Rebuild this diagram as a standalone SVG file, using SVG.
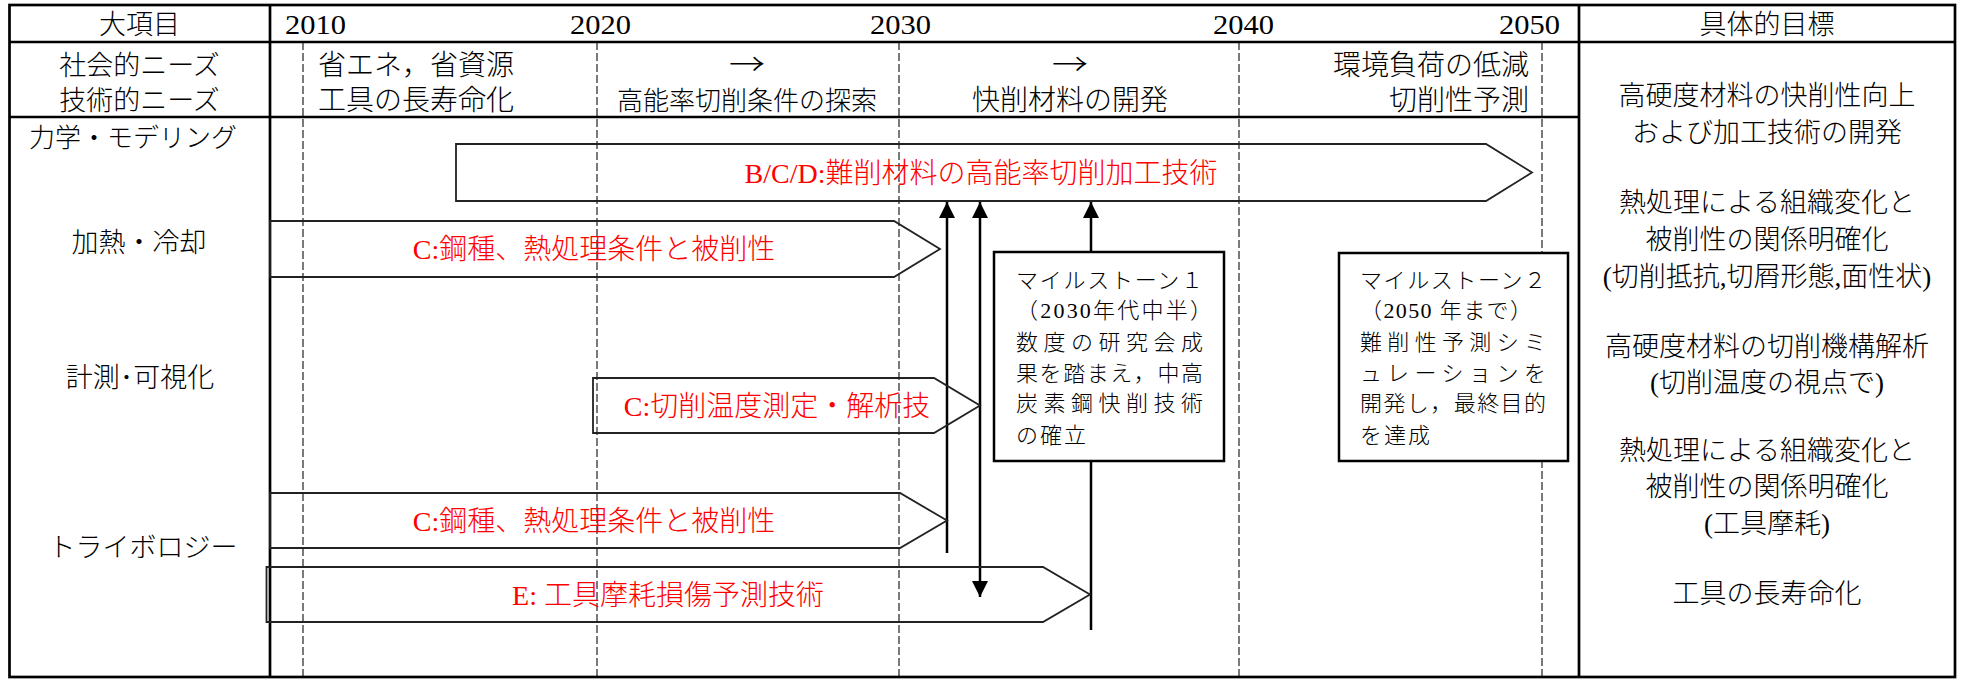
<svg xmlns="http://www.w3.org/2000/svg" width="1962" height="679" viewBox="0 0 1962 679">
<style>
.tbl{stroke:#000;stroke-width:2.7;fill:none}
.dash{stroke:#333;stroke-width:1.3;stroke-dasharray:8 3;fill:none}
.t{font-family:"Liberation Serif","Noto Sans CJK JP",serif;font-size:27px;font-weight:300;fill:#000}
.arr{font-family:"Noto Sans CJK JP",sans-serif;font-size:30px;font-weight:300}
.c{text-anchor:middle}
.e{text-anchor:end}
.red{fill:#f00;font-size:28px}
.bar{fill:none;stroke:#222;stroke-width:1.8}
.ms{fill:#fff;stroke:#000;stroke-width:2.5}
.mt{font-size:22px}
.conn{stroke:#000;stroke-width:2.5;fill:none}
.yr{font-size:28px}
</style>
<defs>
<marker id="ah" markerUnits="userSpaceOnUse" markerWidth="16" markerHeight="16" viewBox="0 0 16 16" refX="16" refY="8" orient="auto-start-reverse">
<path d="M0,0 L16,8 L0,16 z" fill="#000"/>
</marker>
</defs>
<rect width="1962" height="679" fill="#fff"/>
<g id="grid">
<line class="dash" x1="303" y1="42" x2="303" y2="677"/>
<line class="dash" x1="597" y1="42" x2="597" y2="677"/>
<line class="dash" x1="899" y1="42" x2="899" y2="677"/>
<line class="dash" x1="1239" y1="42" x2="1239" y2="677"/>
<line class="dash" x1="1542" y1="42" x2="1542" y2="677"/>
<rect class="tbl" x="9.5" y="5" width="1945.5" height="672"/>
<line class="tbl" x1="9.5" y1="42" x2="1955" y2="42"/>
<line class="tbl" x1="9.5" y1="117" x2="1579" y2="117"/>
<line class="tbl" x1="270" y1="5" x2="270" y2="677"/>
<line class="tbl" x1="1579" y1="5" x2="1579" y2="677"/>
</g>
<g id="header">
<text class="t c" x="139.5" y="34">大項目</text>
<text class="t yr" x="285" y="34" textLength="61" lengthAdjust="spacingAndGlyphs">2010</text>
<text class="t yr" x="570" y="34" textLength="61" lengthAdjust="spacingAndGlyphs">2020</text>
<text class="t yr" x="870" y="34" textLength="61" lengthAdjust="spacingAndGlyphs">2030</text>
<text class="t yr" x="1213" y="34" textLength="61" lengthAdjust="spacingAndGlyphs">2040</text>
<text class="t yr" x="1499" y="34" textLength="61" lengthAdjust="spacingAndGlyphs">2050</text>
<text class="t c" x="1767" y="34">具体的目標</text>
</g>
<g id="needs">
<text class="t c" x="139.5" y="75">社会的ニーズ</text>
<text class="t c" x="139.5" y="110">技術的ニーズ</text>
<text class="t" x="318" y="75" style="font-size:28px">省エネ，省資源</text>
<text class="t" x="318" y="110" style="font-size:28px">工具の長寿命化</text>
<text class="arr c" transform="translate(747,75) scale(1.2,1)">→</text>
<text class="t c" x="747" y="110" style="font-size:26px">高能率切削条件の探索</text>
<text class="arr c" transform="translate(1070,75) scale(1.2,1)">→</text>
<text class="t c" x="1070" y="110" style="font-size:28px">快削材料の開発</text>
<text class="t e" x="1529" y="75" style="font-size:28px">環境負荷の低減</text>
<text class="t e" x="1529" y="110" style="font-size:28px">切削性予測</text>
</g>
<g id="categories">
<text class="t c" x="133" y="147" style="font-size:26px">力学・モデリング</text>
<text class="t c" x="139" y="252">加熱・冷却</text>
<text class="t c" x="140" y="387">計測･可視化</text>
<text class="t c" x="143" y="557">トライボロジー</text>
</g>
<g id="goals">
<text class="t c" x="1767" y="105">高硬度材料の快削性向上</text>
<text class="t c" x="1767" y="142">および加工技術の開発</text>
<text class="t c" x="1767" y="212">熱処理による組織変化と</text>
<text class="t c" x="1767" y="249">被削性の関係明確化</text>
<text class="t c" x="1767" y="286">(切削抵抗,切屑形態,面性状)</text>
<text class="t c" x="1767" y="356">高硬度材料の切削機構解析</text>
<text class="t c" x="1767" y="392">(切削温度の視点で)</text>
<text class="t c" x="1767" y="460">熱処理による組織変化と</text>
<text class="t c" x="1767" y="496">被削性の関係明確化</text>
<text class="t c" x="1767" y="533">(工具摩耗)</text>
<text class="t c" x="1767" y="603">工具の長寿命化</text>
</g>
<g id="connectors">
<line class="conn" x1="947" y1="553" x2="947" y2="202" marker-end="url(#ah)"/>
<line class="conn" x1="980" y1="597" x2="980" y2="202" marker-start="url(#ah)" marker-end="url(#ah)"/>
<line class="conn" x1="1091" y1="630" x2="1091" y2="202" marker-end="url(#ah)"/>
</g>
<g id="bar-bcd">
<polygon class="bar" points="456,144 1486,144 1532,172.5 1486,201 456,201"/>
<text class="t c red" x="981" y="183">B/C/D:難削材料の高能率切削加工技術</text>
</g>
<g id="bar-c1">
<polygon class="bar" points="270,221 894,221 940,249 894,277 270,277"/>
<text class="t c red" x="594" y="259">C:鋼種、熱処理条件と被削性</text>
</g>
<g id="bar-c-temp">
<polygon class="bar" points="593,378 934,378 980,405.5 934,433 593,433"/>
<text class="t c red" x="777" y="416">C:切削温度測定・解析技</text>
</g>
<g id="bar-c2">
<polygon class="bar" points="270,493 900,493 947,520.5 900,548 270,548"/>
<text class="t c red" x="594" y="531">C:鋼種、熱処理条件と被削性</text>
</g>
<g id="bar-e">
<polygon class="bar" points="266.5,567 1043,567 1090,594.5 1043,622 266.5,622"/>
<text class="t c red" x="668" y="605">E: 工具摩耗損傷予測技術</text>
</g>
<g id="milestone1">
<rect class="ms" x="994" y="252" width="230" height="209"/>
<text class="t mt" x="1016" y="288" textLength="187" lengthAdjust="spacing">マイルストーン１</text>
<text class="t mt" x="1016" y="318" textLength="196" lengthAdjust="spacing">（2030年代中半）</text>
<text class="t mt" x="1016" y="350" textLength="187" lengthAdjust="spacing">数度の研究会成</text>
<text class="t mt" x="1016" y="381" textLength="187" lengthAdjust="spacing">果を踏まえ，中高</text>
<text class="t mt" x="1016" y="411" textLength="187" lengthAdjust="spacing">炭素鋼快削技術</text>
<text class="t mt" x="1016" y="443" textLength="70" lengthAdjust="spacing">の確立</text>
</g>
<g id="milestone2">
<rect class="ms" x="1339" y="253" width="229" height="208"/>
<text class="t mt" x="1360" y="288" textLength="186" lengthAdjust="spacing">マイルストーン２</text>
<text class="t mt" x="1360" y="318" textLength="172" lengthAdjust="spacing">（2050 年まで）</text>
<text class="t mt" x="1360" y="350" textLength="186" lengthAdjust="spacing">難削性予測シミ</text>
<text class="t mt" x="1360" y="381" textLength="186" lengthAdjust="spacing">ュレーションを</text>
<text class="t mt" x="1360" y="411" textLength="186" lengthAdjust="spacing">開発し，最終目的</text>
<text class="t mt" x="1360" y="443" textLength="70" lengthAdjust="spacing">を達成</text>
</g>
</svg>
